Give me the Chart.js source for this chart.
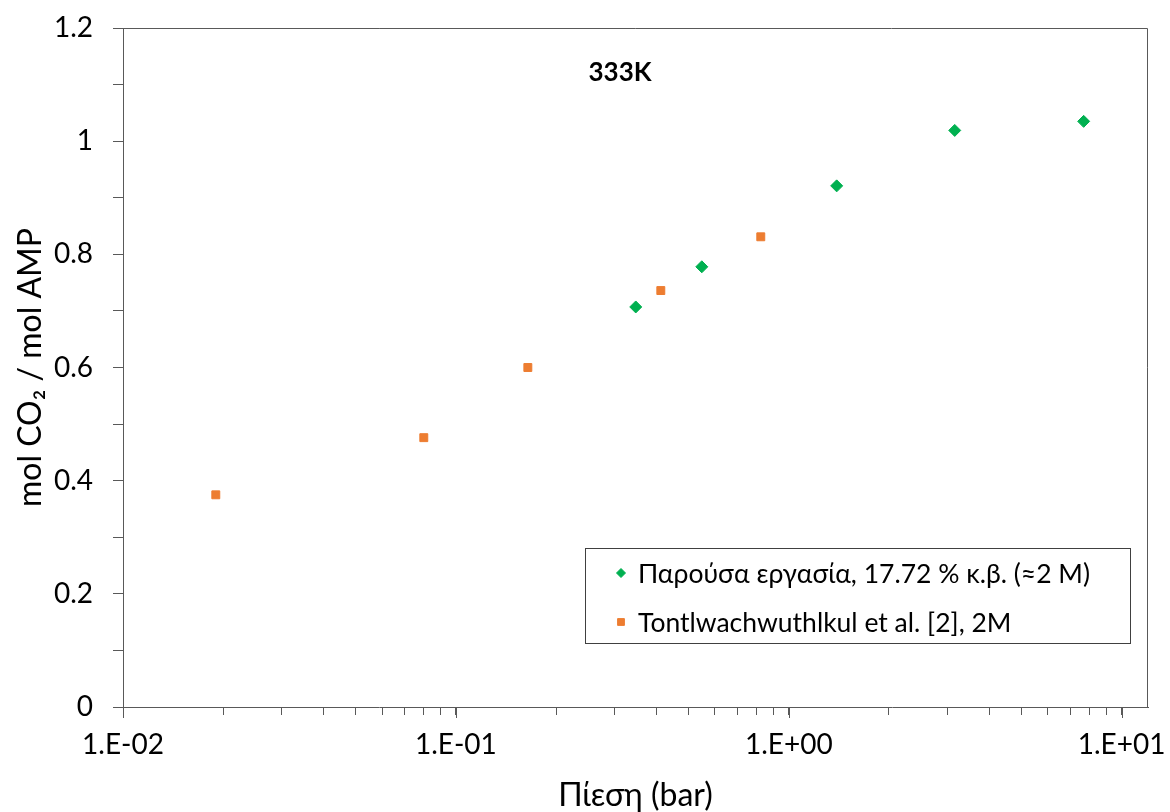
<!DOCTYPE html>
<html>
<head>
<meta charset="utf-8">
<script src="https://cdn.jsdelivr.net/npm/chart.js@4"></script>
<style>
  html, body { margin: 0; padding: 0; background: #fff; }
  #wrap { width: 1170px; height: 812px; }
</style>
</head>
<body>
<div id="wrap"><canvas id="chart"></canvas></div>
<script>
// Παρούσα εργασία (πράσινα)
const presentP = [0.347, 0.548, 1.393, 3.152, 7.69];
const presentA = [0.707, 0.778, 0.921, 1.019, 1.035];
// Tontlwachwuthlkul et al. (πορτοκαλί)
const refP = [0.0190, 0.0801, 0.1645, 0.4127, 0.824];
const refA = [0.375, 0.476, 0.600, 0.736, 0.831];

const xMajor = [0.01, 0.1, 1, 10];
const xMajorLabels = ['1.E-02', '1.E-01', '1.E+00', '1.E+01'];
const xMinor = [];
for (const d of [0.01, 0.1, 1]) {
  for (let k = 1; k <= 9; k++) xMinor.push(+(d * k).toPrecision(3));
}
xMinor.push(10);

const seriesNames = [
  'Παρούσα εργασία, 17.72 % κ.β. (≈2 M)',
  'Tontlwachwuthlkul et al. [2], 2M'
];

const FONT = 'Lato, "Open Sans", sans-serif';
const AXIS = '#595959';

const boxAndExtras = {
  id: 'boxAndExtras',
  afterDraw(chart) {
    const { ctx, chartArea: a, scales } = chart;
    ctx.save();
    // top & right frame
    ctx.strokeStyle = AXIS;
    ctx.lineWidth = 1;
    ctx.beginPath();
    ctx.moveTo(a.left, a.top + 0.5);
    ctx.lineTo(a.right - 0.5, a.top + 0.5);
    ctx.lineTo(a.right - 0.5, a.bottom);
    ctx.stroke();
    // longer major ticks on x
    ctx.beginPath();
    xMajor.forEach(v => {
      const px = Math.round(scales.x.getPixelForValue(v)) + 0.5;
      ctx.moveTo(px, a.bottom);
      ctx.lineTo(px, a.bottom + 11);
    });
    ctx.stroke();

    // title inside plot
    ctx.fillStyle = '#000';
    ctx.font = 'bold 26px ' + FONT;
    ctx.textAlign = 'center';
    ctx.textBaseline = 'middle';
    ctx.fillText('333K', 620, 73);

    // legend
    const lx = 585, ly = 548, lw = 545, lh = 95;
    ctx.fillStyle = '#fff';
    ctx.fillRect(lx, ly, lw, lh);
    ctx.strokeStyle = '#404040';
    ctx.strokeRect(lx + 0.5, ly + 0.5, lw, lh);
    ctx.font = '26.5px ' + FONT;
    ctx.textAlign = 'left';
    const rows = [ly + 25, ly + 74];
    chart.data.datasets.forEach((ds, i) => {
      ctx.fillStyle = ds.backgroundColor;
      ctx.strokeStyle = ds.borderColor;
      ctx.lineWidth = 1;
      Chart.helpers.drawPoint(ctx, {
        pointStyle: ds.pointStyle,
        radius: ds.pointStyle === 'rectRot' ? 4.5 : 4.8,
        borderWidth: 1,
        rotation: 0
      }, 621, rows[i]);
      ctx.fillStyle = '#000';
      ctx.fillText(ds.label, 638, rows[i] + 1);
    });
    ctx.restore();
  }
};

new Chart(document.getElementById('chart'), {
  type: 'scatter',
  data: {
    datasets: [
      {
        label: seriesNames[0],
        data: presentP.map((p, i) => ({ x: p, y: presentA[i] })),
        pointStyle: 'rectRot',
        pointRadius: 6,
        borderWidth: 1,
        backgroundColor: '#00B050',
        borderColor: '#00B050'
      },
      {
        label: seriesNames[1],
        data: refP.map((p, i) => ({ x: p, y: refA[i] })),
        pointStyle: 'rect',
        pointRadius: 5.6,
        borderWidth: 1,
        backgroundColor: '#ED7D31',
        borderColor: '#ED7D31'
      }
    ]
  },
  options: {
    responsive: true,
    maintainAspectRatio: false,
    animation: false,
    layout: { padding: { top: 28, right: 22, left: 0, bottom: 0 } },
    plugins: {
      legend: { display: false },
      tooltip: { enabled: false },
      title: { display: false }
    },
    scales: {
      x: {
        type: 'logarithmic',
        min: 0.01,
        max: 12,
        afterBuildTicks: s => { s.ticks = xMinor.map(v => ({ value: v })); },
        afterFit: s => { s.height = 105; s.paddingLeft = 0; s.paddingRight = 0; },
        ticks: {
          autoSkip: false,
          maxRotation: 0,
          padding: 13,
          color: '#000',
          font: { family: FONT, size: 28 },
          callback: v => {
            const i = xMajor.findIndex(m => Math.abs(m - v) < 1e-9);
            return i >= 0 ? xMajorLabels[i] : '';
          }
        },
        grid: { drawOnChartArea: false, color: AXIS, tickLength: 8 },
        border: { color: AXIS, width: 1 },
        title: {
          display: true,
          text: 'Πίεση (bar)',
          color: '#000',
          font: { family: FONT, size: 32, lineHeight: 1.0 },
          padding: { top: 0, bottom: 0 }
        }
      },
      y: {
        min: 0,
        max: 1.2,
        afterFit: s => { s.width = 123; s.paddingTop = 0; s.paddingBottom = 0; },
        ticks: {
          stepSize: 0.1,
          autoSkip: false,
          padding: 20,
          color: '#000',
          font: { family: FONT, size: 28 },
          callback: (v, i) => i % 2 === 0 ? String(+v.toFixed(1)) : ''
        },
        grid: { drawOnChartArea: false, color: AXIS, tickLength: 10 },
        border: { color: AXIS, width: 1 },
        title: {
          display: true,
          text: 'mol CO₂ / mol AMP',
          color: '#000',
          font: { family: FONT, size: 32, lineHeight: 1.2 },
          padding: { top: 11, bottom: 0 }
        }
      }
    }
  },
  plugins: [boxAndExtras]
});
</script>
</body>
</html>
